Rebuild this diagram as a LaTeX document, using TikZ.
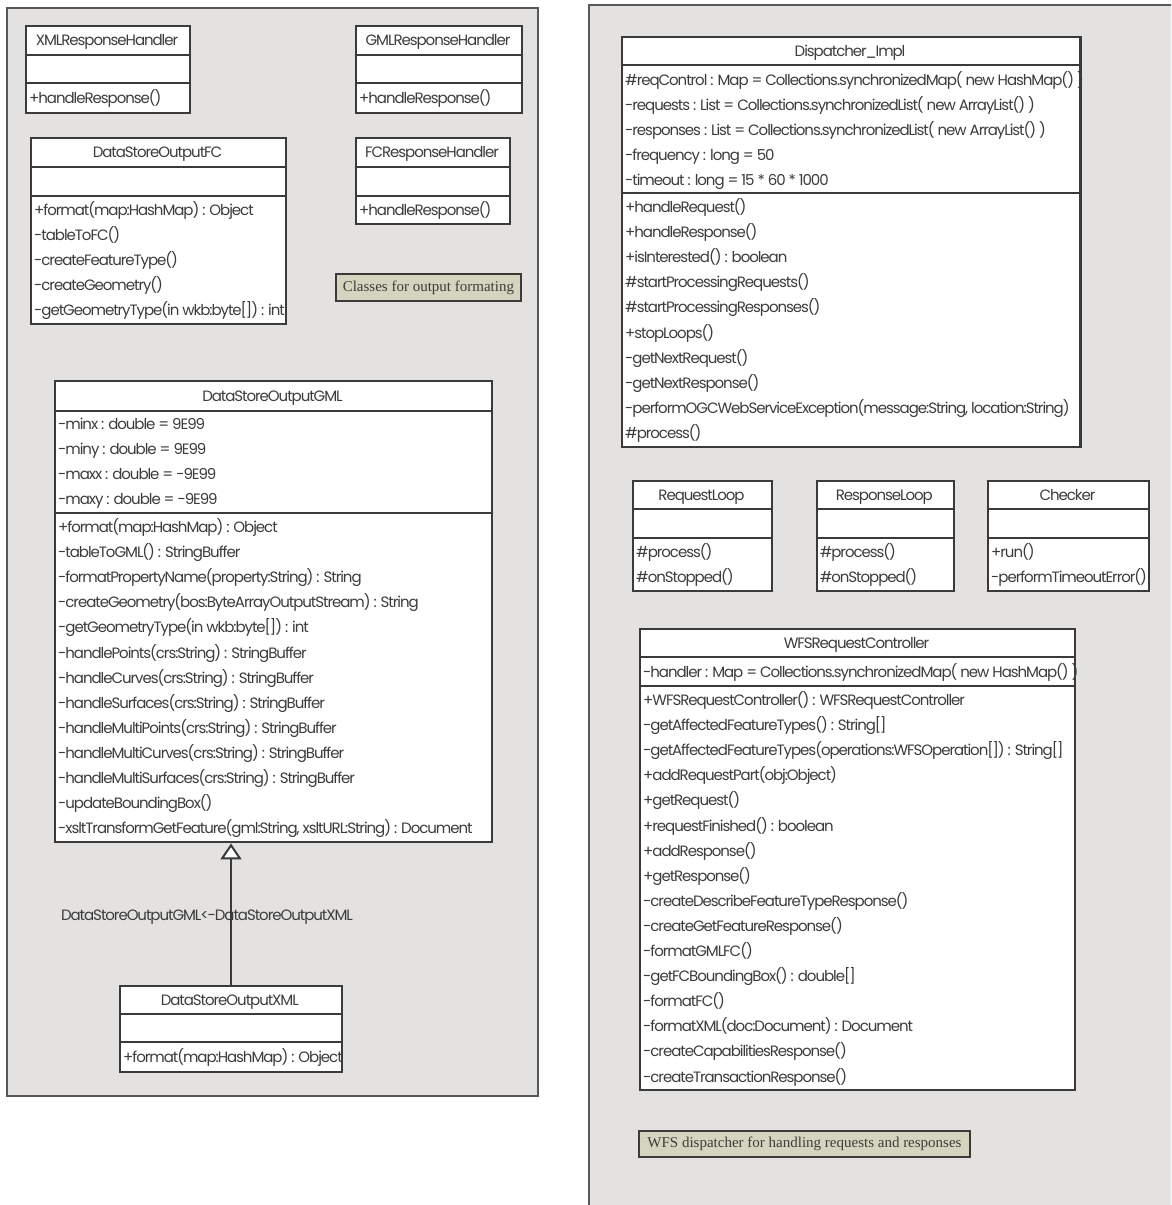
\documentclass[tikz,border=0pt]{standalone}
\usepackage{fontspec}
\setmainfont{Poppins}[LetterSpace=-7]
\newfontfamily\notefont{Liberation Serif}
\usetikzlibrary{arrows.meta}

\definecolor{pkgfill}{RGB}{227,226,224}
\definecolor{pkgline}{RGB}{88,88,88}
\definecolor{boxline}{RGB}{58,58,58}
\definecolor{notefill}{RGB}{213,213,191}
\definecolor{ink}{RGB}{60,60,60}

\tikzset{
  package/.style={draw=pkgline, fill=pkgfill, line width=2pt, inner sep=0pt},
  classbox/.style={draw=boxline, fill=white, line width=2.4pt, inner sep=0pt},
  divider/.style={draw=boxline, line width=1.8pt},
  umlrow/.style={anchor=west, inner sep=0pt, text height=10.5pt, text depth=3.5pt,
    yshift=-2pt, font=\fontsize{15}{15}\selectfont, text=ink},
  umltitle/.style={umlrow, anchor=center},
  note/.style={draw=boxline, fill=notefill, line width=2.4pt, inner sep=0pt,
    font=\notefont\fontsize{15}{15}\selectfont, text=ink},
  inherit/.style={draw=boxline, line width=2pt,
    -{Triangle[length=16pt, width=21pt, fill=white]}},
}

% box with two compartment dividers and a centred title
\newcommand\umlclass[8]{%
  \node[classbox, anchor=north west, minimum width={#4-#2}, minimum height={#5-#3}] (#1) at (#2,#3) {};
  \draw[divider] (#2,#6) -- (#4,#6);
  \draw[divider] (#2,#7) -- (#4,#7);
  \node[umltitle] (#1-title) at ({(#2+#4)/2},{(#3+#6)/2}) {#8};
}
% one compartment's lines, 25.1 units apart
\newcommand\umlrows[4]{%
  \foreach \rowtext [count=\k from 0] in {#4}
    \node[umlrow] (#1-\k) at (#2, {#3+25.1*\k}) {\rowtext};
}

\begin{document}
\begin{tikzpicture}[x=1pt, y=-1pt]
\useasboundingbox (0,0) rectangle (1171,1205);
\clip (0,0) rectangle (1171,1205);

% packages
\node[package, anchor=north west, minimum width=531, minimum height=1088] (leftpkg) at (6,7) {};
\node[package, anchor=north west, minimum width=620, minimum height=1230] (rightpkg) at (587.5,4) {};

% ---- output formatting classes ----
\umlclass{xmlrh}{25}{25}{189}{112}{55}{83}{XMLResponseHandler}
\umlrows{xmlrh-m}{29}{97.5}{+handleResponse()}

\umlclass{gmlrh}{355}{25}{521}{112}{55}{83}{GMLResponseHandler}
\umlrows{gmlrh-m}{359}{97.5}{+handleResponse()}

\umlclass{dsofc}{30}{137}{285}{323}{167}{196}{DataStoreOutputFC}
\umlrows{dsofc-m}{34}{210}{+format(map:HashMap) : Object, -tableToFC(), -createFeatureType(),
  -createGeometry(), -getGeometryType(in wkb:byte[]) : int}

\umlclass{fcrh}{355}{137}{509}{223}{167}{196}{FCResponseHandler}
\umlrows{fcrh-m}{359}{210}{+handleResponse()}

\node[note, minimum width=185, minimum height=27] (fmtnote) at (428.4,287.5) {Classes for output formating};

\umlclass{gml}{54}{380}{491}{841}{411}{513}{DataStoreOutputGML}
\umlrows{gml-a}{58}{424}{-minx : double = 9E99, -miny : double = 9E99,
  -maxx : double = -9E99, -maxy : double = -9E99}
\umlrows{gml-m}{58}{527}{+format(map:HashMap) : Object, -tableToGML() : StringBuffer,
  -formatPropertyName(property:String) : String,
  -createGeometry(bos:ByteArrayOutputStream) : String,
  -getGeometryType(in wkb:byte[]) : int,
  -handlePoints(crs:String) : StringBuffer,
  -handleCurves(crs:String) : StringBuffer,
  -handleSurfaces(crs:String) : StringBuffer,
  -handleMultiPoints(crs:String) : StringBuffer,
  -handleMultiCurves(crs:String) : StringBuffer,
  -handleMultiSurfaces(crs:String) : StringBuffer,
  -updateBoundingBox(),
  {-xsltTransformGetFeature(gml:String, xsltURL:String) : Document}}

\umlclass{xmlout}{118.6}{985}{341}{1071}{1014}{1042}{DataStoreOutputXML}
\umlrows{xmlout-m}{123}{1056.5}{+format(map:HashMap) : Object}

% generalisation
\coordinate (ax) at (231,0);
\draw[inherit] (ax |- xmlout.north) -- (ax |- gml.south);
\node[umltitle] (inhlabel) at (207,915) {DataStoreOutputGML<-DataStoreOutputXML};

% ---- dispatcher classes ----
\umlclass{disp}{620.7}{36}{1079.4}{446}{65}{192.7}{Dispatcher\_Impl}
\umlrows{disp-a}{625}{80}{\#reqControl : Map = Collections.synchronizedMap( new HashMap() ),
  -requests : List = Collections.synchronizedList( new ArrayList() ),
  -responses : List = Collections.synchronizedList( new ArrayList() ),
  -frequency : long = 50,
  -timeout : long = 15 * 60 * 1000}
\umlrows{disp-m}{625}{207}{+handleRequest(), +handleResponse(), +isInterested() : boolean,
  \#startProcessingRequests(), \#startProcessingResponses(), +stopLoops(),
  -getNextRequest(), -getNextResponse(),
  {-performOGCWebServiceException(message:String, location:String)},
  \#process()}

\umlclass{reqloop}{632}{480}{771}{590}{509}{538}{RequestLoop}
\umlrows{reqloop-m}{636}{552}{\#process(), \#onStopped()}

\umlclass{resloop}{815.6}{480}{953}{590}{509}{538}{ResponseLoop}
\umlrows{resloop-m}{819.6}{552}{\#process(), \#onStopped()}

\umlclass{checker}{987}{480}{1148}{590}{509}{538}{Checker}
\umlrows{checker-m}{991}{552}{+run(), -performTimeoutError()}

\umlclass{wfs}{639}{628}{1074}{1089}{657}{686}{WFSRequestController}
\umlrows{wfs-a}{643}{671.5}{-handler : Map = Collections.synchronizedMap( new HashMap() )}
\umlrows{wfs-m}{643}{700}{+WFSRequestController() : WFSRequestController,
  -getAffectedFeatureTypes() : String[],
  -getAffectedFeatureTypes(operations:WFSOperation[]) : String[],
  +addRequestPart(obj:Object), +getRequest(), +requestFinished() : boolean,
  +addResponse(), +getResponse(), -createDescribeFeatureTypeResponse(),
  -createGetFeatureResponse(), -formatGMLFC(), -getFCBoundingBox() : double[],
  -formatFC(), -formatXML(doc:Document) : Document,
  -createCapabilitiesResponse(), -createTransactionResponse()}

\node[note, minimum width=331, minimum height=26] (wfsnote) at (804.5,1144) {WFS dispatcher for handling requests and responses};
\end{tikzpicture}
\end{document}
